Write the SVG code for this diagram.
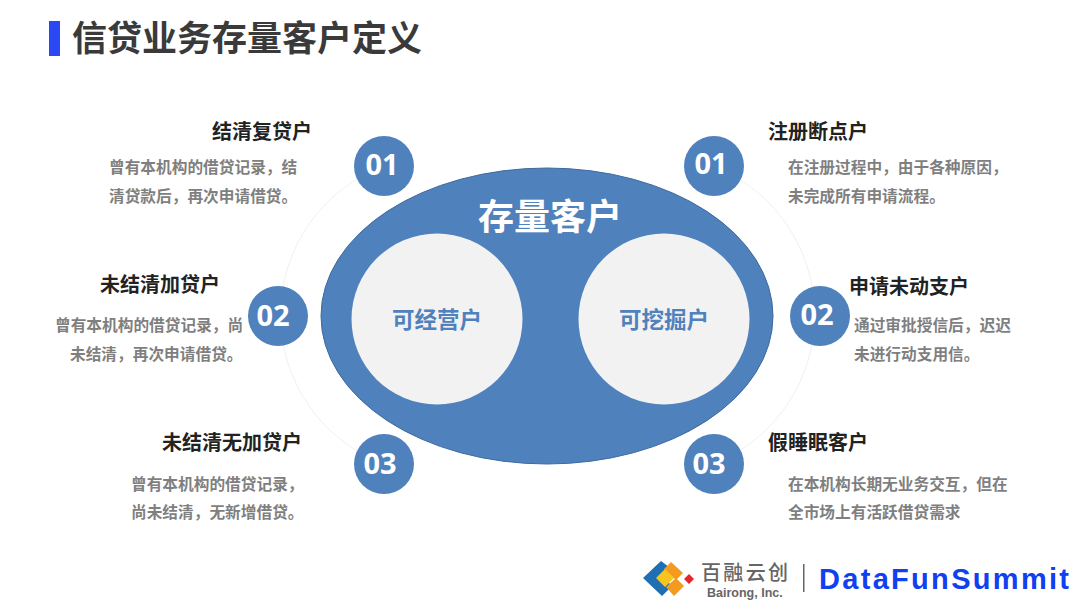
<svg xmlns="http://www.w3.org/2000/svg" width="1080" height="608" viewBox="0 0 1080 608">
<style>
text{font-family:"Noto Sans CJK SC","Noto Sans",sans-serif}
.num{fill:#4f81bd}
.n{fill:#fff;font-size:29px;font-weight:700;text-anchor:middle;font-family:"Open Sans","Noto Sans",sans-serif}
.h{fill:#222;font-size:20px;font-weight:700}
.d{fill:#7f7f7f;font-size:15.7px;font-weight:700}
.arc{fill:none;stroke:#eef0f2;stroke-width:1}
.inner{fill:#f2f2f2}
.il{fill:#4f81bd;font-size:22.5px;font-weight:700;text-anchor:middle}
</style>
<rect width="1080" height="608" fill="#fff"/>
<g id="title">
<rect x="49" y="21" width="11" height="35" fill="#2b48f5"/>
<text x="72" y="51" font-size="35" font-weight="700" fill="#3a3a3a">信贷业务存量客户定义</text>
</g>
<g id="connectors">
<path class="arc" d="M384 166A159 159 0 0 0 384 464"/>
<path class="arc" d="M713 166A160 160 0 0 1 713 464"/>
</g>
<g id="core">
<ellipse cx="547" cy="316" rx="226" ry="148" fill="#4f81bd" stroke="#3f6a9e" stroke-width="1"/>
<text x="550" y="230" font-size="36" font-weight="700" fill="#fff" text-anchor="middle">存量客户</text>
</g>
<g id="inner-left">
<circle class="inner" cx="437" cy="319" r="85.500"/>
<text class="il" x="437" y="328">可经营户</text>
</g>
<g id="inner-right">
<circle class="inner" cx="664" cy="319" r="85.500"/>
<text class="il" x="664" y="328">可挖掘户</text>
</g>
<g id="left-1">
<circle class="num" cx="384" cy="166" r="30"/>
<text class="n" x="382" y="175">01</text>
<text class="h" x="312" y="139" text-anchor="end">结清复贷户</text>
<text class="d" x="109" y="173">曾有本机构的借贷记录，结</text>
<text class="d" x="109" y="202">清贷款后，再次申请借贷。</text>
</g>
<g id="left-2">
<circle class="num" cx="278" cy="316" r="30"/>
<text class="n" x="273" y="326">02</text>
<text class="h" x="220" y="292" text-anchor="end">未结清加贷户</text>
<text class="d" x="55" y="331">曾有本机构的借贷记录，尚</text>
<text class="d" x="70" y="360">未结清，再次申请借贷。</text>
</g>
<g id="left-3">
<circle class="num" cx="384" cy="464" r="30"/>
<text class="n" x="380" y="474">03</text>
<text class="h" x="302" y="450" text-anchor="end">未结清无加贷户</text>
<text class="d" x="131" y="490">曾有本机构的借贷记录，</text>
<text class="d" x="131" y="518">尚未结清，无新增借贷。</text>
</g>
<g id="right-1">
<circle class="num" cx="714" cy="166" r="30"/>
<text class="n" x="711" y="174">01</text>
<text class="h" x="768" y="139">注册断点户</text>
<text class="d" x="788" y="173">在注册过程中，由于各种原因，</text>
<text class="d" x="788" y="202">未完成所有申请流程。</text>
</g>
<g id="right-2">
<circle class="num" cx="820" cy="316" r="30"/>
<text class="n" x="817" y="325">02</text>
<text class="h" x="849" y="294">申请未动支户</text>
<text class="d" x="854" y="331">通过审批授信后，迟迟</text>
<text class="d" x="854" y="360">未进行动支用信。</text>
</g>
<g id="right-3">
<circle class="num" cx="714" cy="464" r="30"/>
<text class="n" x="709" y="474">03</text>
<text class="h" x="768" y="450">假睡眠客户</text>
<text class="d" x="788" y="490">在本机构长期无业务交互，但在</text>
<text class="d" x="788" y="518">全市场上有活跃借贷需求</text>
</g>
<g id="logo">
<path d="M661 561L643 578L662 596L672 586L664 578L673 570Z" fill="#1f6fb5"/>
<path d="M664 569L671 562L683 573L676 580Z" fill="#f39a1f"/>
<path d="M656 578L665 569L674 578L665 587Z" fill="#f7c51e"/>
<path d="M666 587L676 578L684 586L674 596Z" fill="#f39a1f"/>
<path d="M684 579L689 574L694 579L689 584Z" fill="#e8262a"/>
<text x="701" y="580" font-size="20" font-weight="500" fill="#666" textLength="87" lengthAdjust="spacing">百融云创</text>
<text x="707" y="597" font-size="12.500" font-weight="700" fill="#666" style="font-family:'Liberation Sans',sans-serif">Bairong, Inc.</text>
<rect x="803" y="564" width="1.500" height="28" fill="#666"/>
<text x="819" y="589" font-size="29" font-weight="700" fill="#1040f0" textLength="250" lengthAdjust="spacing" style="font-family:'Liberation Sans',sans-serif">DataFunSummit</text>
</g>
</svg>
